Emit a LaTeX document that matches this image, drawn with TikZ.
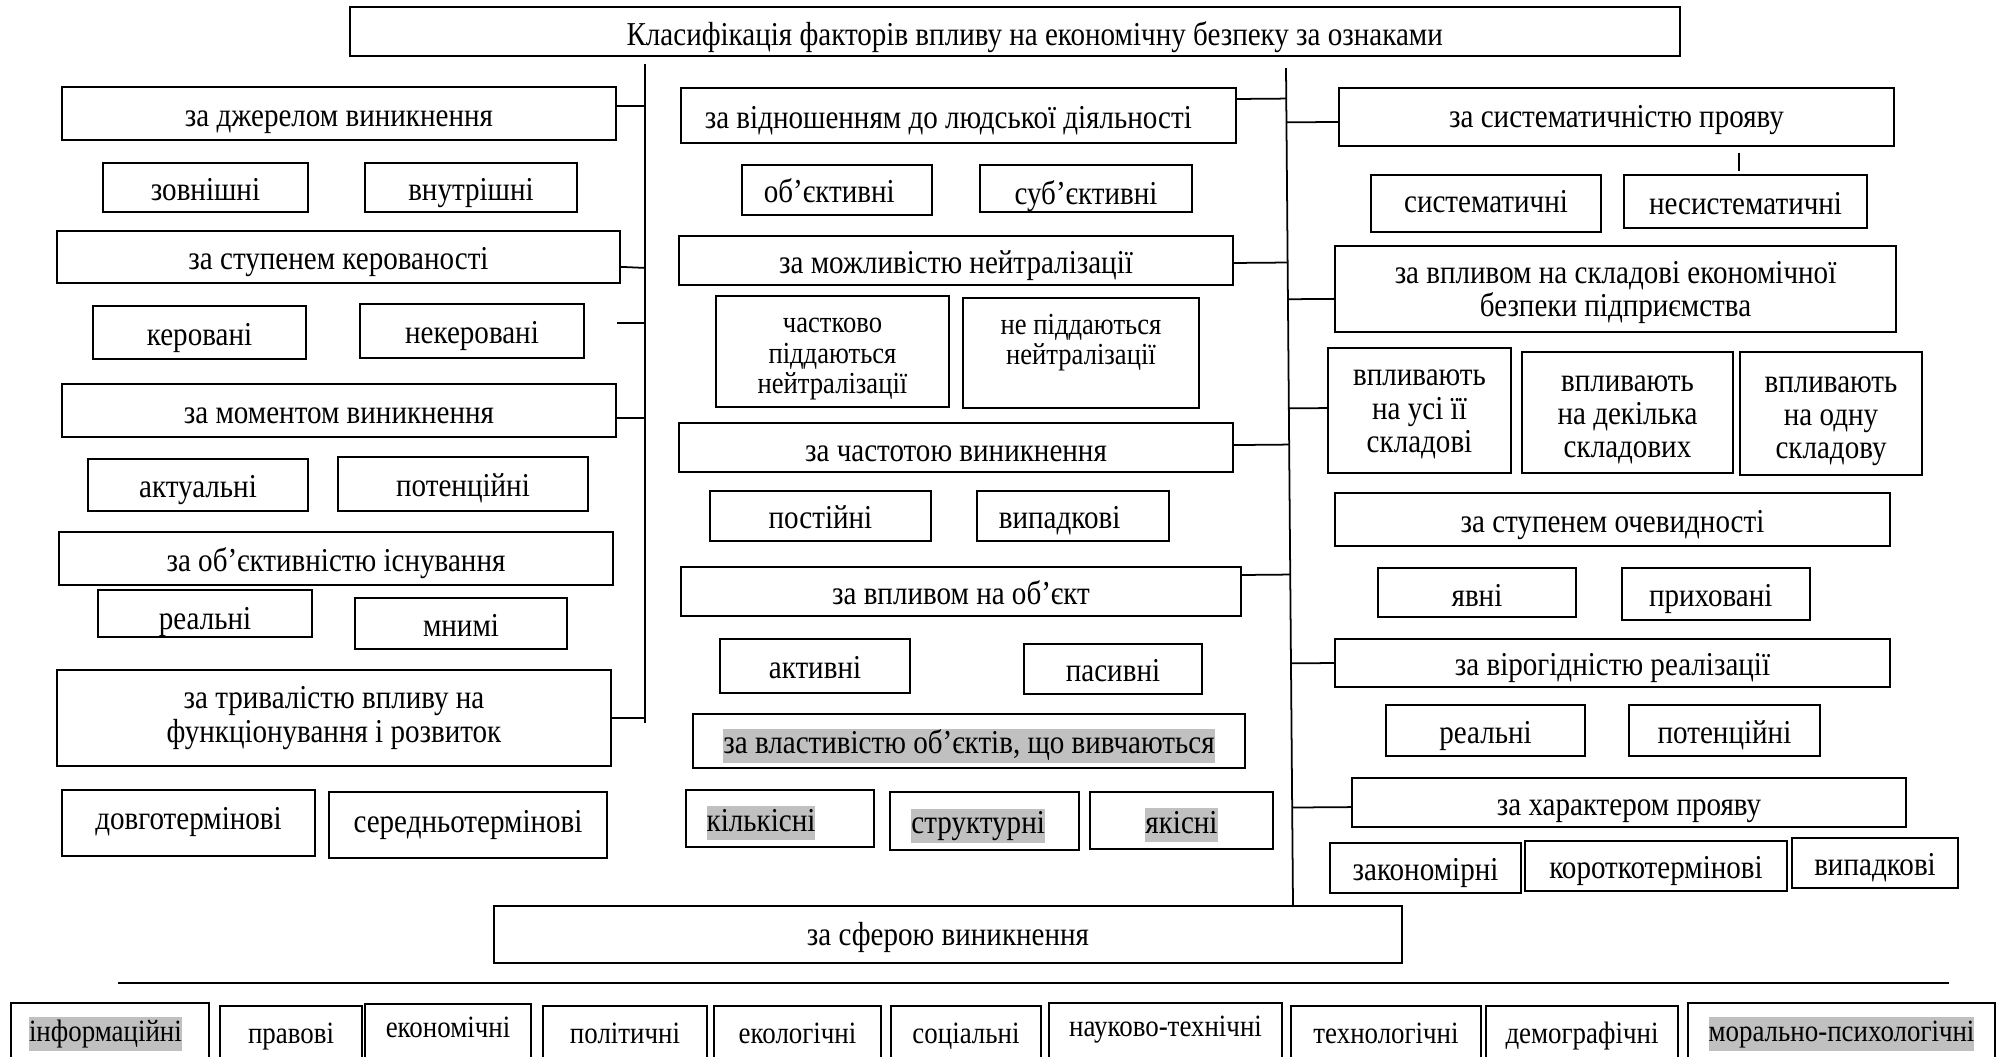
\documentclass[tikz,border=0pt]{standalone}
\usepackage{fontspec}
\setmainfont{Liberation Serif}[FakeStretch=0.87]
\usetikzlibrary{calc}
\definecolor{hlgray}{RGB}{192,192,192}
\tikzset{
  box/.style={draw, line width=0.5pt, inner sep=0pt},
  txt/.style={inner sep=0pt, align=center, font=\fontsize{9.5}{9.4}\selectfont},
  oneline/.style={anchor=base, yshift=-3.55pt},
  multiline/.style={anchor=center},
  smaller/.style={font=\fontsize{8.7}{8.7}\selectfont},
  lowrow/.style={oneline, font=\fontsize{8.8}{8.8}\selectfont, yshift=0.7pt},
  marked/.style={fill=hlgray, text height=7.1pt, text depth=2.6pt},
  conn/.style={line width=0.5pt},
}
% box from corner (x1,y1) to (x2,y2), text set inside
\newcommand{\kbox}[7][oneline]{%
  \node[box, minimum width={(#5-#3)*0.01cm}, minimum height={(#6-#4)*0.01cm}]
    (#2) at ({(#3+#5)/2},{(#4+#6)/2}) {};
  \node[txt, #1] (#2-t) at (#2.center) {#7};}

\begin{document}
\begin{tikzpicture}[x=0.01cm, y=-0.01cm]
\useasboundingbox (0,0) rectangle (1997,1056);

\kbox[oneline,xshift=5.6pt,yshift=-0.4pt]{title}{350}{7}{1680}{56}{Класифікація факторів впливу на економічну безпеку за ознаками}

% left column
\kbox{dzh}{62}{87}{616}{140}{за джерелом виникнення}
\kbox{zovn}{103}{163}{308}{212}{зовнішні}
\kbox{vnutr}{365}{163}{577}{212}{внутрішні}
\kbox{ker}{57}{231}{620}{283}{за ступенем керованості}
\kbox{kerov}{93}{306}{306}{359}{керовані}
\kbox{nekerov}{360}{304}{584}{358}{некеровані}
\kbox{mom}{62}{384}{616}{437}{за моментом виникнення}
\kbox{aktu}{88}{459}{308}{511}{актуальні}
\kbox{poten}{338}{457}{588}{511}{потенційні}
\kbox{isnuv}{59}{532}{613}{585}{за об’єктивністю існування}
\kbox[oneline,yshift=-1pt]{realni}{98}{590}{312}{637}{реальні}
\kbox{mnymi}{355}{598}{567}{649}{мнимі}
\kbox[multiline]{tryv}{57}{670}{611}{766}{за тривалістю впливу на\\функціонування і розвиток}
\kbox[oneline,yshift=1.7pt]{dovgo}{62}{790}{315}{856}{довготермінові}
\kbox[oneline,yshift=1.4pt]{seredn}{329}{792}{607}{858}{середньотермінові}

% middle column
\kbox[oneline,xshift=-2.9pt]{ludy}{681}{88}{1236}{143}{за відношенням до людської діяльності}
\kbox[oneline,xshift=-2.2pt]{obj}{742}{165}{932}{215}{об’єктивні}
\kbox[oneline,yshift=-1pt]{subj}{980}{165}{1192}{212}{суб’єктивні}
\kbox{neitr}{679}{236}{1233}{285}{за можливістю нейтралізації}
\kbox[multiline,smaller,yshift=-2.2pt]{chastk}{716}{296}{949}{407}{частково\\піддаються\\нейтралізації}
\kbox[multiline,smaller,yshift=2.9pt]{nepid}{963}{298}{1199}{408}{не піддаються\\нейтралізації}
\kbox[oneline,yshift=-0.5pt]{chast}{679}{423}{1233}{472}{за частотою виникнення}
\kbox{post}{710}{491}{931}{541}{постійні}
\kbox[oneline,xshift=-3.8pt]{vypad}{977}{491}{1169}{541}{випадкові}
\kbox{vplob}{681}{567}{1241}{616}{за впливом на об’єкт}
\kbox{aktyv}{720}{639}{910}{693}{активні}
\kbox{pasyv}{1024}{644}{1202}{694}{пасивні}
\kbox[oneline,marked]{vlast}{693}{714}{1245}{768}{за властивістю об’єктів, що вивчаються}
\kbox[oneline,marked,xshift=-5.4pt]{kilk}{686}{790}{874}{847}{кількісні}
\kbox[oneline,marked,xshift=-1.8pt]{strukt}{890}{792}{1079}{850}{структурні}
\kbox[oneline,marked]{yakis}{1090}{792}{1273}{849}{якісні}

% right column
\kbox[oneline,yshift=0.7pt]{syst}{1339}{88}{1894}{146}{за систематичністю прояву}
\kbox[oneline,yshift=1pt]{systm}{1371}{175}{1601}{232}{систематичні}
\kbox{nesyst}{1624}{175}{1867}{228}{несистематичні}
\kbox[multiline,yshift=-1pt]{sklad}{1335}{246}{1896}{332}{за впливом на складові економічної\\безпеки підприємства}
\kbox[multiline,yshift=-1.1pt]{usi}{1328}{348}{1511}{473}{впливають\\на усі її\\складові}
\kbox[multiline,yshift=-2pt]{dekil}{1522}{352}{1733}{473}{впливають\\на декілька\\складових}
\kbox[multiline,yshift=-2.1pt]{odnu}{1740}{352}{1922}{475}{впливають\\на одну\\складову}
\kbox{ochev}{1335}{493}{1890}{546}{за ступенем очевидності}
\kbox[oneline,yshift=-0.4pt]{yavni}{1378}{568}{1576}{617}{явні}
\kbox[oneline,xshift=-1.5pt]{pryh}{1622}{568}{1810}{620}{приховані}
\kbox{virog}{1335}{639}{1890}{687}{за вірогідністю реалізації}
\kbox{realr}{1386}{705}{1585}{756}{реальні}
\kbox{potr}{1629}{705}{1820}{756}{потенційні}
\kbox{harakt}{1352}{778}{1906}{827}{за характером прояву}
\kbox{zakon}{1330}{843}{1521}{893}{закономірні}
\kbox{korot}{1525}{841}{1787}{891}{короткотермінові}
\kbox{vypr}{1792}{838}{1958}{888}{випадкові}

% sphere row
\kbox[oneline,yshift=0.5pt]{sfera}{494}{906}{1402}{963}{за сферою виникнення}
\kbox[lowrow,marked,xshift=-1.3pt]{inform}{11}{1003}{209}{1060}{інформаційні}
\kbox[lowrow]{prav}{220}{1006}{362}{1060}{правові}
\kbox[lowrow,yshift=1.4pt]{ekon}{365}{1004}{531}{1060}{економічні}
\kbox[lowrow]{polit}{543}{1006}{707}{1060}{політичні}
\kbox[lowrow]{ekol}{714}{1006}{881}{1060}{екологічні}
\kbox[lowrow]{soc}{891}{1006}{1041}{1060}{соціальні}
\kbox[lowrow,yshift=1.3pt]{nauk}{1049}{1003}{1282}{1060}{науково-технічні}
\kbox[lowrow]{tehn}{1291}{1006}{1481}{1060}{технологічні}
\kbox[lowrow]{demo}{1486}{1006}{1678}{1060}{демографічні}
\kbox[lowrow,marked]{moral}{1688}{1003}{1995}{1060}{морально-психологічні}

% lines
\coordinate (l1a) at (645,64);
\coordinate (l1b) at (645,723);
\coordinate (l2a) at (1286,68);
\coordinate (l2b) at (1293,906);
\coordinate (kerstub) at (617,323);
\coordinate (systick) at (1739,153);
\coordinate (sfl) at (118,983);
\coordinate (sfr) at (1949,983);
\draw[conn] (l1a) -- (l1b);
\draw[conn] (l2a) -- (l2b);
\draw[conn] (sfl) -- (sfr);
\draw[conn] ([yshift=2.1pt]dzh.east) -- ([yshift=2.1pt]dzh.east -| l1a);
\draw[conn] ([yshift=-2.8pt]ker.east) -- ([yshift=-3.1pt]ker.east -| l1a);
\draw[conn] (kerstub) -- (kerstub -| l1a);
\draw[conn] ([yshift=-2.1pt]mom.east) -- ([yshift=-2.1pt]mom.east -| l1a);
\draw[conn] (tryv.east) -- (tryv.east -| l1a);
\draw[conn] ([yshift=4.7pt]ludy.east) -- ($(l2a)!([yshift=4.7pt]ludy.east)!(l2b)$);
\draw[conn] ([yshift=-0.7pt]neitr.east) -- ($(l2a)!([yshift=-0.7pt]neitr.east)!(l2b)$);
\draw[conn] ([yshift=0.7pt]chast.east) -- ($(l2a)!([yshift=0.7pt]chast.east)!(l2b)$);
\draw[conn] ([yshift=4.7pt]vplob.east) -- ($(l2a)!([yshift=4.7pt]vplob.east)!(l2b)$);
\draw[conn] ($(l2a)!([yshift=-1.4pt]syst.west)!(l2b)$) -- ([yshift=-1.4pt]syst.west);
\draw[conn] ($(l2a)!([yshift=-2.8pt]sklad.west)!(l2b)$) -- ([yshift=-2.8pt]sklad.west);
\draw[conn] ($(l2a)!([yshift=0.7pt]usi.west)!(l2b)$) -- ([yshift=0.7pt]usi.west);
\draw[conn] ($(l2a)!(virog.west)!(l2b)$) -- (virog.west);
\draw[conn] ($(l2a)!([yshift=-1.3pt]harakt.west)!(l2b)$) -- ([yshift=-1.3pt]harakt.west);
\draw[conn] (systick) -- ++(0,18);
\end{tikzpicture}
\end{document}
